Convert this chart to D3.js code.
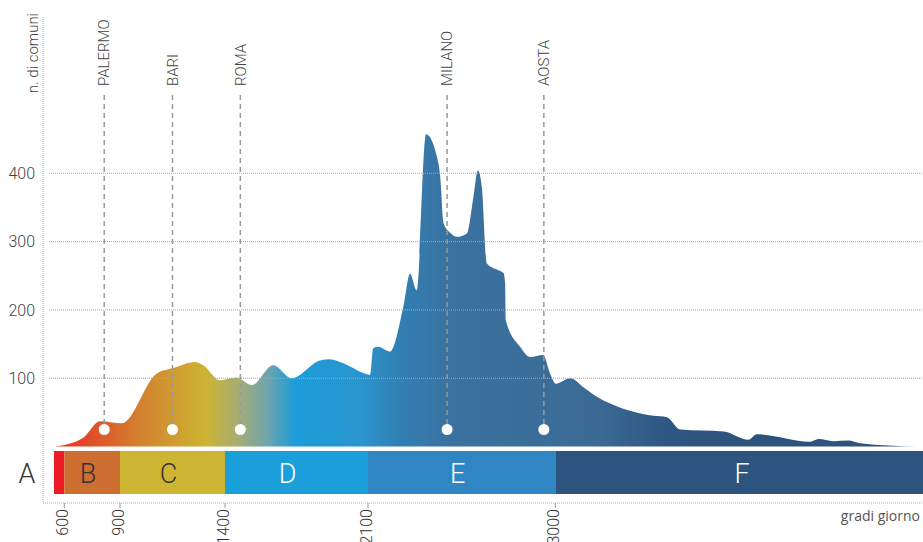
<!DOCTYPE html>
<html>
<head>
<meta charset="utf-8">
<script src="https://cdn.jsdelivr.net/npm/d3@7"></script>
<style>
  body { margin: 0; background: #fff; }
  svg { display: block; font-family: Roboto, sans-serif; }
</style>
</head>
<body>
<div id="plot"></div>
<script>
// gradi giorno (x) vs numero di comuni (y)
const gradi = [555, 702, 792, 908, 1075, 1154, 1257, 1297, 1376, 1457, 1531, 1636, 1726, 1865, 1914, 1979,
  2094, 2110, 2125, 2149, 2206, 2270, 2302, 2334, 2379, 2438, 2447, 2463, 2495, 2527, 2575, 2607, 2628,
  2647, 2671, 2727, 2751, 2759, 2762, 2831, 2879, 2942, 2975, 3003, 3071, 3143, 3200, 3264, 3473, 3537,
  3601, 3810, 3930, 3970, 4227, 4267, 4339, 4411, 4467, 4740];
const comuni = [0, 13, 37, 34, 107, 115, 124, 119, 97, 101, 90, 119, 100, 126, 128, 122,
  106, 105, 144, 146, 139, 205, 253, 229, 457, 415, 395, 327, 313, 307, 312, 366, 404,
  380, 268, 258, 254, 239, 185, 146, 131, 134, 107, 92, 100, 85, 73, 63, 45, 43,
  25, 22, 10, 18, 7, 11, 8, 9, 5, 0];

const yTicks = [100, 200, 300, 400];
const xTicks = [600, 900, 1400, 2100, 3000];

// climate zones
const zoneNames = ["A", "B", "C", "D", "E", "F"];
const zoneFrom = [550, 600, 900, 1400, 2100, 3000];
const zoneTo = [600, 900, 1400, 2100, 3000, 4770];
const zoneColors = ["#ed1c24", "#cf6e31", "#cdb533", "#1a9fda", "#2f86c2", "#2c547f"];
const zoneText = ["#333", "#333", "#333", "#fff", "#fff", "#fff"];

const cities = ["PALERMO", "BARI", "ROMA", "MILANO", "AOSTA"];
const cityGradi = [815, 1150, 1475, 2480, 2945];

const width = 923, height = 542;

const svg = d3.select("#plot").append("svg")
  .attr("width", width)
  .attr("height", height);

// the axis is not quite linear in the original, so piecewise
const x = d3.scaleLinear()
  .domain([550, 600, 900, 1400, 2100, 3000, 4770])
  .range([54, 64.3, 120, 225, 368, 555.3, 923]);

const y = d3.scaleLinear()
  .domain([0, 400])
  .range([446.6, 173.3]);

const data = gradi.map(function(g, i) { return { g: g, n: comuni[i] }; });

// horizontal gradient for the area
const stops = [
  [54, "#ee2a24"], [95, "#e0522a"], [140, "#d3812f"], [205, "#cdb432"],
  [238, "#a6ad72"], [268, "#6ea4ae"], [295, "#1c9dd9"], [360, "#2a95ce"],
  [400, "#327fb3"], [450, "#3a72a0"], [600, "#3a6a94"], [650, "#305b87"],
  [690, "#2c547f"], [923, "#2c527c"]
];
const grad = svg.append("defs").append("linearGradient")
  .attr("id", "areaGrad")
  .attr("gradientUnits", "userSpaceOnUse")
  .attr("x1", 54).attr("x2", 923).attr("y1", 0).attr("y2", 0);
grad.selectAll("stop").data(stops).enter().append("stop")
  .attr("offset", function(d) { return (d[0] - 54) / (923 - 54); })
  .attr("stop-color", function(d) { return d[1]; });

const area = d3.area()
  .x(function(d) { return x(d.g); })
  .y0(y(0))
  .y1(function(d) { return y(d.n); })
  .curve(d3.curveMonotoneX);

svg.append("path")
  .datum(data)
  .attr("d", area)
  .attr("fill", "url(#areaGrad)");

// grid lines (drawn over the area)
svg.selectAll(".grid").data(yTicks).enter().append("line")
  .attr("x1", 49).attr("x2", width)
  .attr("y1", function(d) { return y(d); })
  .attr("y2", function(d) { return y(d); })
  .attr("stroke", "#aaa")
  .attr("stroke-width", 1)
  .attr("stroke-dasharray", "1,1");

svg.selectAll(".ylab").data(yTicks).enter().append("text")
  .attr("x", 35)
  .attr("y", function(d) { return y(d); })
  .attr("dy", "0.35em")
  .attr("text-anchor", "end")
  .style("font-size", "16px")
  .style("font-weight", 300)
  .attr("fill", "#444")
  .text(function(d) { return d; });

// axes
svg.append("line")
  .attr("x1", 43).attr("x2", 43).attr("y1", 17).attr("y2", 503)
  .attr("stroke", "#aaa").attr("stroke-dasharray", "1,1");
svg.append("line")
  .attr("x1", 43).attr("x2", width).attr("y1", 503).attr("y2", 503)
  .attr("stroke", "#aaa").attr("stroke-dasharray", "1,1");

svg.append("text")
  .attr("transform", "translate(33,13) rotate(-90)")
  .attr("dy", "0.35em")
  .attr("text-anchor", "end")
  .style("font-size", "15px")
  .style("font-weight", 300)
  .attr("fill", "#444")
  .text("n. di comuni");

// x ticks
svg.selectAll(".xtick").data(xTicks).enter().append("line")
  .attr("x1", function(d) { return x(d); })
  .attr("x2", function(d) { return x(d); })
  .attr("y1", 503).attr("y2", 508)
  .attr("stroke", "#999");

svg.selectAll(".xlab").data(xTicks).enter().append("text")
  .attr("transform", function(d) { return "translate(" + (x(d) - 2) + ",509) rotate(-90)"; })
  .attr("dy", "0.35em")
  .attr("text-anchor", "end")
  .style("font-size", "16px")
  .style("font-weight", 300)
  .attr("fill", "#333")
  .text(function(d) { return d; });

svg.append("text")
  .attr("x", 920).attr("y", 521)
  .attr("text-anchor", "end")
  .style("font-family", "'Open Sans', sans-serif")
  .style("font-size", "14px")
  .attr("fill", "#555")
  .text("gradi giorno");

// zone band
svg.selectAll(".zone").data(zoneNames).enter().append("rect")
  .attr("x", function(d, i) { return x(zoneFrom[i]); })
  .attr("width", function(d, i) { return x(zoneTo[i]) - x(zoneFrom[i]); })
  .attr("y", 451).attr("height", 43)
  .attr("fill", function(d, i) { return zoneColors[i]; });

// letters sit a little off-centre in the original
const zoneNudge = [0, -4, -4, -9, -4, 3];
svg.selectAll(".zlab").data(zoneNames).enter().append("text")
  .attr("x", function(d, i) {
    if (i === 0) return 27; // A sits outside the band
    return (x(zoneFrom[i]) + x(zoneTo[i])) / 2 + zoneNudge[i];
  })
  .attr("y", 473)
  .attr("dy", "0.36em")
  .attr("text-anchor", "middle")
  .style("font-size", "27px")
  .style("font-weight", 300)
  .attr("fill", function(d, i) { return zoneText[i]; })
  .text(function(d) { return d; });

// cities
svg.selectAll(".cline").data(cities).enter().append("line")
  .attr("x1", function(d, i) { return x(cityGradi[i]); })
  .attr("x2", function(d, i) { return x(cityGradi[i]); })
  .attr("y1", 95).attr("y2", 429)
  .attr("stroke", "#999")
  .attr("stroke-width", 1.5)
  .attr("stroke-dasharray", "5,4");

svg.selectAll(".cdot").data(cities).enter().append("circle")
  .attr("cx", function(d, i) { return x(cityGradi[i]); })
  .attr("cy", 429.5)
  .attr("r", 5.5)
  .attr("fill", "#fff");

svg.selectAll(".clab").data(cities).enter().append("text")
  .attr("transform", function(d, i) { return "translate(" + x(cityGradi[i]) + ",86) rotate(-90)"; })
  .attr("dy", "0.35em")
  .attr("text-anchor", "start")
  .style("font-size", "15px")
  .style("font-weight", 300)
  .attr("fill", "#444")
  .text(function(d) { return d; });
</script>
</body>
</html>
